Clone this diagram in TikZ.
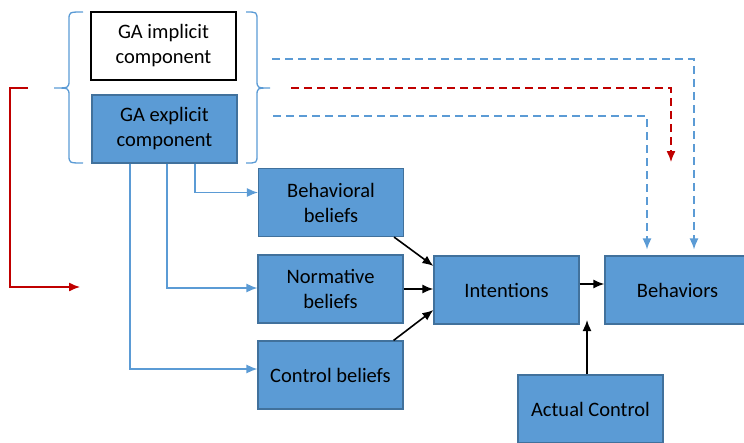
\documentclass[tikz,border=0pt]{standalone}
\usepackage{fontspec}
\setmainfont{Carlito}
\usetikzlibrary{arrows.meta}
\definecolor{boxblue}{HTML}{5B9BD5}
\definecolor{edgeblue}{HTML}{41719C}
\definecolor{linkred}{HTML}{C00000}
\begin{document}
\begin{tikzpicture}[x=1pt, y=-1pt,
        block/.style={draw=edgeblue, fill=boxblue, line width=1.2pt, minimum width=145pt, minimum height=68pt, align=center, font=\fontsize{20.5}{25}\selectfont},
        plain/.style={block, draw=black, fill=white, line width=1.6pt},
        link/.style={draw=boxblue, line width=1.3pt},
        dashlink/.style={link, dash pattern=on 8pt off 5pt},
        redlink/.style={draw=linkred, line width=1.3pt},
        flow/.style={draw=black, line width=1.6pt},
        >={Latex[length=11pt,width=9pt]}
    ]
        \useasboundingbox (0,0) rectangle (744,442);

        % GA components
        \node[plain] (impl) at (163.5,46) {GA implicit\\component};
        \node[block] (expl) at (164.5,129) {GA explicit\\component};

        % Beliefs
        \node[block] (behav) at (331,202.5) {Behavioral\\beliefs};
        \node[block] (norm) at (330.5,289) {Normative\\beliefs};
        \node[block] (ctrl) at (330.5,375) {Control beliefs};

        % Intentions and behaviors
        \node[block] (intent) at (506.5,290) {Intentions};
        \node[block] (behv) at (677.5,290) {Behaviors};
        \node[block] (actual) at (590.5,409) {Actual Control};

        % Braces round the GA components
        \draw[link] (83,12) .. controls (69,12) .. (69,20) -- (69,80) .. controls (69,88) .. (54,88)
            .. controls (69,88) .. (69,96) -- (69,155) .. controls (69,163) .. (83,163);
        \draw[link] (246,12) .. controls (257,12) .. (257,20) -- (257,80) .. controls (257,88) .. (270,88)
            .. controls (257,88) .. (257,96) -- (257,155) .. controls (257,163) .. (246,163);

        % Free ends
        \coordinate (redin) at (28,88);
        \coordinate (redout) at (80,287);
        \coordinate (dimp) at (272,59);
        \coordinate (dred) at (291,88);
        \coordinate (dexp) at (273,116);
        \coordinate (redtip) at (671,162);
        \coordinate (actin) at (587,320);

        % Feedback
        \draw[redlink, ->] (redin) -- (10,88) |- (redout);
        \draw[dashlink, ->, shorten >=6pt] (dimp) -| ([xshift=16.5pt]behv.north);
        \draw[dashlink, ->, draw=linkred] (dred) -| (redtip);
        \draw[dashlink, ->, shorten >=6pt] (dexp) -| ([xshift=-30.5pt]behv.north);

        % GA explicit to beliefs
        \draw[link, ->] ([xshift=30.5pt]expl.south) |- ([yshift=10pt]behav.west);
        \draw[link, ->] ([xshift=2.5pt]expl.south) |- ([yshift=1pt]norm.west);
        \draw[link, ->] ([xshift=-34.5pt]expl.south) |- ([yshift=6pt]ctrl.west);

        % Beliefs to intentions
        \draw[flow, ->] ([xshift=-10pt]behav.south east) -- ([yshift=24pt]intent.west);
        \draw[flow, ->] (norm.east) -- ([yshift=1pt]intent.west);
        \draw[flow, ->] ([xshift=-10pt]ctrl.north east) -- ([yshift=-20pt]intent.west);
        \draw[flow, ->] ([yshift=6pt]intent.east) -- ([yshift=6pt]behv.west);
        \draw[flow, ->] ([xshift=-3.5pt]actual.north) -- (actin);
    \end{tikzpicture}
\end{document}
